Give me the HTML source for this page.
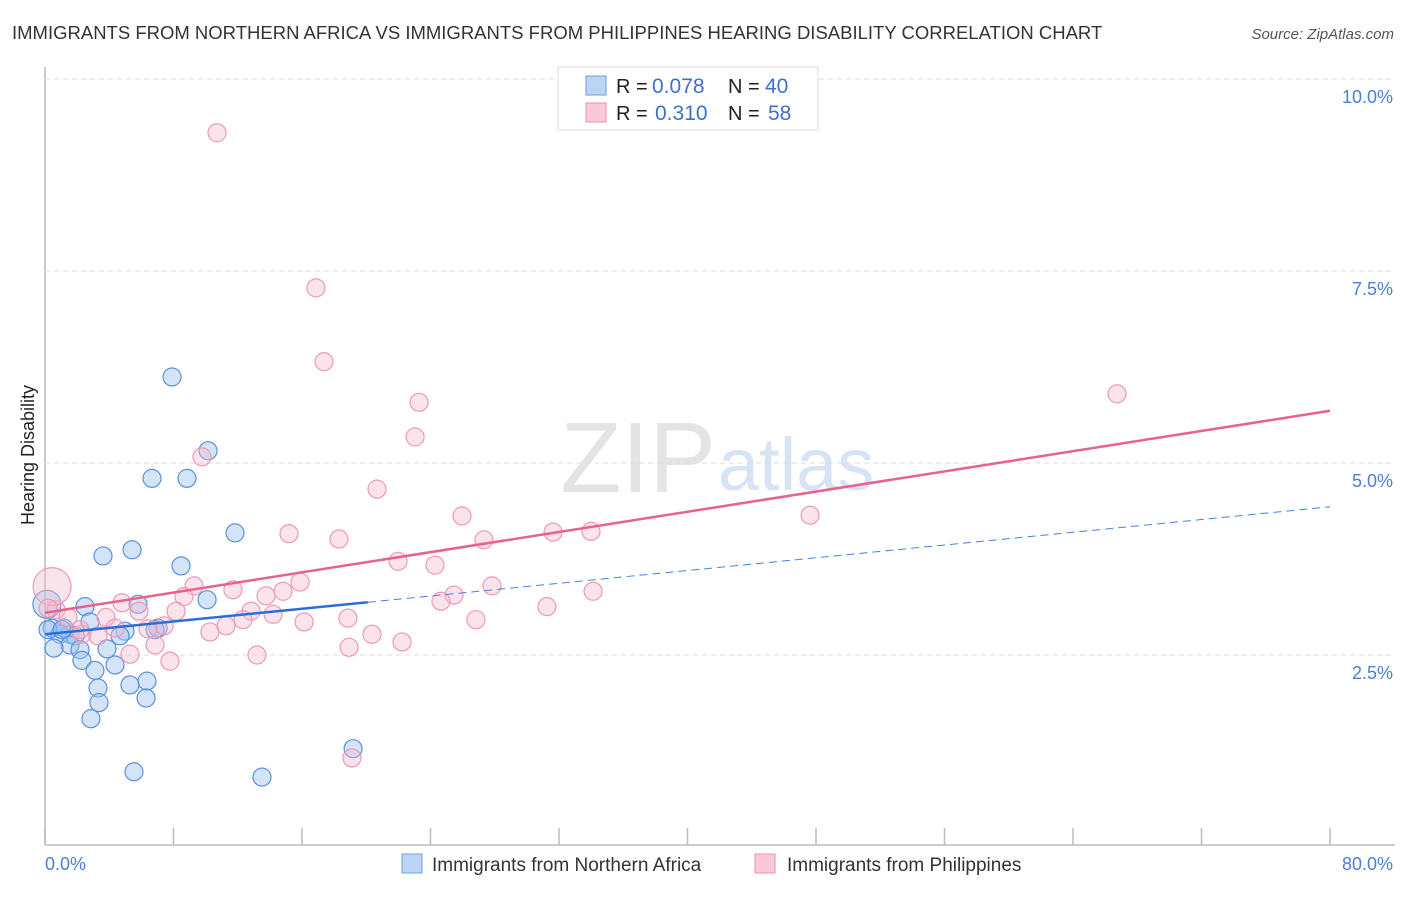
<!DOCTYPE html>
<html><head><meta charset="utf-8"><style>
body{margin:0;background:#fff;font-family:"Liberation Sans",sans-serif;}
svg text{font-family:"Liberation Sans",sans-serif;}
</style></head><body>
<svg id="chart" width="1406" height="892">
<text x="12" y="39" font-size="18.5" fill="#333">IMMIGRANTS FROM NORTHERN AFRICA VS IMMIGRANTS FROM PHILIPPINES HEARING DISABILITY CORRELATION CHART</text>
<text x="1394" y="39" font-size="15" fill="#555" font-style="italic" text-anchor="end">Source: ZipAtlas.com</text>
<text x="716" y="492" font-size="100" fill="#e4e4e4" text-anchor="end" font-family="Liberation Serif">ZIP</text>
<text x="718" y="490" font-size="74" fill="#d6e4f5">atlas</text>
<g id="grid"></g>
<g id="pts"></g>
<g id="lines"></g>
<text transform="translate(34,455) rotate(-90)" font-size="18" fill="#222" text-anchor="middle">Hearing Disability</text>
<text x="45" y="870" font-size="18" fill="#4a7fd4">0.0%</text>
<text x="1393" y="870" font-size="18" fill="#4a7fd4" text-anchor="end">80.0%</text>
<g>
<rect x="558" y="67" width="260" height="63" fill="#fff" stroke="#ddd"/>
<rect x="586" y="76" width="20" height="19" fill="#bcd4f4" stroke="#6f9fe0"/>
<rect x="586" y="103" width="20" height="19" fill="#f9c9d8" stroke="#eb8fae"/>
<text x="616" y="93" font-size="20" fill="#222">R =</text>
<text x="652" y="93" font-size="21" fill="#3d6fcf">0.078</text>
<text x="728" y="93" font-size="20" fill="#222">N =</text>
<text x="765" y="93" font-size="21" fill="#3d6fcf">40</text>
<text x="616" y="120" font-size="20" fill="#222">R =</text>
<text x="655" y="120" font-size="21" fill="#3d6fcf">0.310</text>
<text x="728" y="120" font-size="20" fill="#222">N =</text>
<text x="768" y="120" font-size="21" fill="#3d6fcf">58</text>
</g>
<g>
<rect x="402" y="854" width="20" height="19" fill="#bcd4f4" stroke="#6f9fe0"/>
<text x="432" y="871" font-size="19" fill="#333">Immigrants from Northern Africa</text>
<rect x="755" y="854" width="20" height="19" fill="#f9c9d8" stroke="#eb8fae"/>
<text x="787" y="871" font-size="19" fill="#333">Immigrants from Philippines</text>
</g>
</svg>
<script>
const yTicks=[2.5,5.0,7.5,10.0];
const xTicks=[0,8,16,24,32,40,48,56,64,72,80];
const blueX=[7.91,10.15,6.66,8.84,11.83,3.61,5.42,8.47,10.09,2.49,5.79,0.12,0.44,0.93,1.56,1.87,2.80,1.18,4.98,4.67,7.04,6.85,1.56,0.56,2.18,3.86,2.30,3.11,4.36,6.35,5.29,3.30,6.29,3.36,2.86,5.54,13.51,19.18,0.19,1.06];
const blueY=[6.12,5.16,4.80,4.80,4.09,3.79,3.87,3.66,3.22,3.13,3.16,3.16,2.85,2.77,2.77,2.75,2.93,2.85,2.81,2.75,2.85,2.83,2.63,2.59,2.57,2.58,2.43,2.30,2.37,2.16,2.11,2.07,1.94,1.88,1.67,0.98,0.91,1.28,2.83,2.83];
const pinkX=[10.71,16.87,17.37,23.29,23.04,66.74,9.77,20.67,47.63,25.96,15.19,18.30,31.63,33.99,27.33,21.98,24.28,9.28,11.70,15.88,27.83,8.65,13.76,14.82,25.46,24.65,34.12,31.25,4.79,5.85,8.16,12.83,14.20,0.68,1.43,3.80,12.33,16.13,18.86,26.83,7.41,6.41,11.27,4.36,2.30,3.30,10.27,20.36,18.93,22.23,6.85,5.29,13.20,7.78,19.11,0.44,0.19,2.18];
const pinkY=[9.30,7.28,6.32,5.79,5.34,5.90,5.08,4.66,4.32,4.31,4.08,4.01,4.10,4.11,4.00,3.72,3.67,3.40,3.35,3.45,3.40,3.26,3.27,3.33,3.28,3.20,3.33,3.13,3.18,3.07,3.07,3.07,3.03,3.09,2.99,2.99,2.96,2.93,2.98,2.96,2.88,2.84,2.88,2.85,2.77,2.75,2.80,2.77,2.60,2.67,2.63,2.51,2.50,2.42,1.16,3.39,3.11,2.83];
const blueBig={11:14};
const pinkBig={55:19};
const pinkTrend=[3.05,5.68];
const blueTrend=[2.77,4.43];
const blueSolidEnd=20.1;
const NS='http://www.w3.org/2000/svg';
const X=v=>45+v/80*1285, Y=v=>847-v*76.8;
function mk(t,a,p){const e=document.createElementNS(NS,t);for(const k in a)e.setAttribute(k,a[k]);p.appendChild(e);return e;}
const grid=document.getElementById('grid');
mk('line',{x1:45,y1:67,x2:45,y2:845,stroke:'#bbb','stroke-width':1.5},grid);
mk('line',{x1:45,y1:845,x2:1395,y2:845,stroke:'#bbb','stroke-width':1.5},grid);
yTicks.forEach(v=>{
 const l=mk('line',{x1:45,y1:Y(v),x2:1395,y2:Y(v),stroke:'#ddd','stroke-dasharray':'5,4'},grid);
 
 
 const t=mk('text',{x:1393,y:Y(v)+24,'font-size':18,fill:'#4a7fd4','text-anchor':'end'},grid);
 t.textContent=v.toFixed(1)+'%';
 
 
});
xTicks.forEach(v=>{
 const l=mk('line',{x1:X(v),y1:828,x2:X(v),y2:845,stroke:'#bbb','stroke-width':1.5},grid);
 
 
});
const pts=document.getElementById('pts');
blueX.forEach((v,i)=>{
 const c=mk('circle',{cx:X(v),cy:Y(blueY[i]),r:blueBig[i]||9,fill:'rgba(160,196,240,0.45)',stroke:'#5b90dc','stroke-width':1.2},pts);
 
 
});
pinkX.forEach((v,i)=>{
 const c=mk('circle',{cx:X(v),cy:Y(pinkY[i]),r:pinkBig[i]||9,fill:'rgba(246,184,204,0.4)',stroke:'#ec9ab5','stroke-width':1.2},pts);
 
 
});
const lines=document.getElementById('lines');
const pl=mk('line',{x1:X(0),y1:Y(pinkTrend[0]),x2:X(80),y2:Y(pinkTrend[1]),stroke:'#e8628f','stroke-width':2.5},lines);


const by=v=>blueTrend[0]+(blueTrend[1]-blueTrend[0])*v/80;
const bs=mk('line',{x1:X(0),y1:Y(by(0)),x2:X(blueSolidEnd),y2:Y(by(blueSolidEnd)),stroke:'#2a6fd6','stroke-width':2.5},lines);


const bd=mk('line',{x1:X(blueSolidEnd),y1:Y(by(blueSolidEnd)),x2:X(80),y2:Y(by(80)),stroke:'#4a80d8','stroke-width':1,'stroke-dasharray':'8,5'},lines);


</script>
</body></html>
